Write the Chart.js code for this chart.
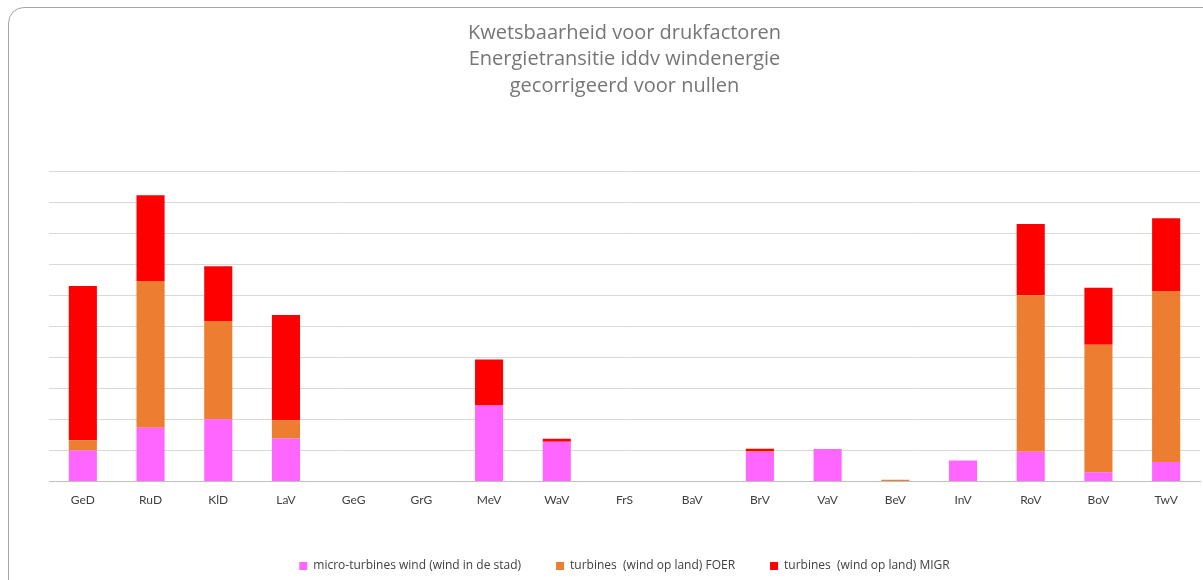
<!DOCTYPE html>
<html>
<head>
<meta charset="utf-8">
<script src="https://cdn.jsdelivr.net/npm/chart.js@4"></script>
<style>
  html, body { margin: 0; padding: 0; background: #fff; overflow: hidden; }
  #wrap { position: relative; width: 1203px; height: 580px; overflow: hidden; }
  #frame { position: absolute; left: 8px; top: 7px; width: 1260px; height: 640px;
           border: 1px solid #a6a6a6; border-radius: 16px; }
  canvas { position: absolute; left: 0; top: 0; }
</style>
</head>
<body>
<div id="wrap">
  <div id="frame"></div>
  <canvas id="chart" width="1203" height="582"></canvas>
</div>
<script>
// regio's
const labels = ['GeD', 'RuD', 'KlD', 'LaV', 'GeG', 'GrG', 'MeV', 'WaV', 'FrS', 'BaV', 'BrV', 'VaV', 'BeV', 'InV', 'RoV', 'BoV', 'TwV'];

// micro-turbines wind (wind in de stad)
const microWind = [1.0, 1.73, 2.01, 1.39, 0, 0, 2.45, 1.28, 0, 0, 0.95, 1.05, 0, 0.68, 0.96, 0.30, 0.63];
// turbines (wind op land) FOER
const foer = [0.33, 4.73, 3.16, 0.58, 0, 0, 0, 0, 0, 0, 0.03, 0, 0.06, 0, 5.04, 4.11, 5.51];
// turbines (wind op land) MIGR
const migr = [4.97, 2.76, 1.76, 3.39, 0, 0, 1.48, 0.10, 0, 0, 0.08, 0, 0, 0, 2.29, 1.83, 2.34];

const font = "'Open Sans', Lato, sans-serif";

new Chart(document.getElementById('chart'), {
    type: 'bar',
    data: {
        labels: labels,
        datasets: [
            { label: 'micro-turbines wind (wind in de stad)', data: microWind, backgroundColor: '#FF66FF' },
            { label: 'turbines  (wind op land) FOER', data: foer, backgroundColor: '#ED7D31' },
            { label: 'turbines  (wind op land) MIGR', data: migr, backgroundColor: '#FF0000' }
        ]
    },
    options: {
        responsive: false,
        animation: false,
        layout: { padding: { left: 49, right: 3, top: 20, bottom: 0 } },
        datasets: { bar: { categoryPercentage: 1, barPercentage: 0.415 } },
        plugins: {
            title: {
                display: true,
                text: ['Kwetsbaarheid voor drukfactoren', 'Energietransitie iddv windenergie', 'gecorrigeerd voor nullen'],
                color: '#767676',
                font: { family: font, size: 20, weight: 'normal', lineHeight: 1.325 },
                padding: { top: 0, bottom: 71.5 }
            },
            legend: {
                position: 'bottom',
                labels: {
                    color: '#404040',
                    font: { family: font, size: 12 },
                    boxWidth: 8,
                    boxHeight: 8,
                    padding: 35
                }
            },
            tooltip: { enabled: false }
        },
        scales: {
            x: {
                stacked: true,
                grid: { display: false },
                border: { color: '#bfbfbf' },
                ticks: { color: '#404040', font: { family: "Lato, sans-serif", size: 12 }, padding: 3 },
                afterFit: s => { s.height += 15; }
            },
            y: {
                stacked: true,
                min: 0,
                max: 10,
                ticks: { display: false, stepSize: 1 },
                grid: { color: '#d9d9d9', drawTicks: false },
                border: { display: false },
                afterFit: s => { s.width = 0; }
            }
        }
    }
});
</script>
</body>
</html>
